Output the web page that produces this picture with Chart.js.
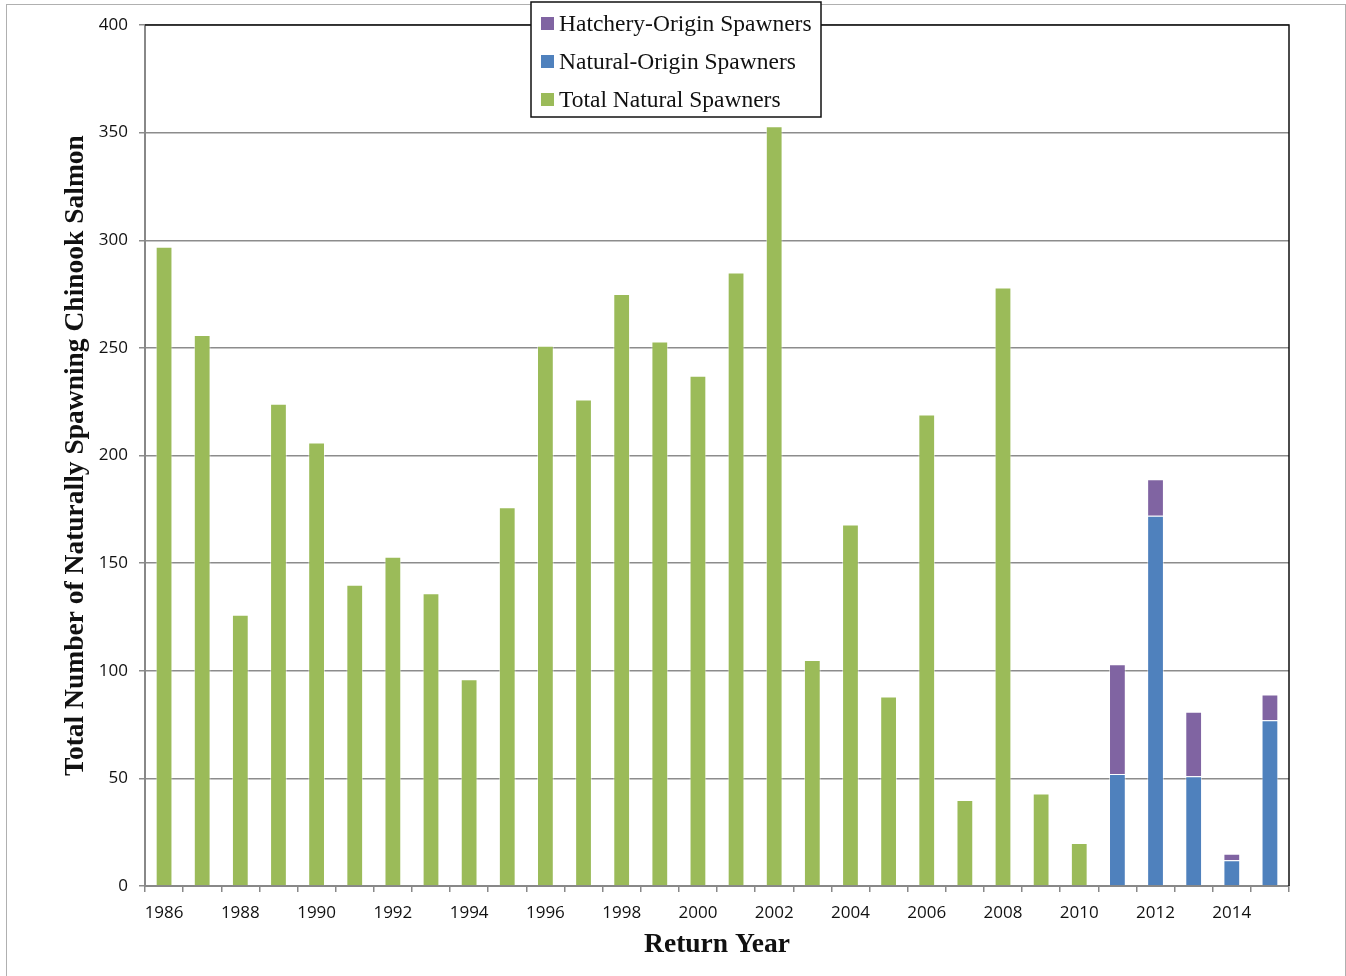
<!DOCTYPE html>
<html>
<head>
<meta charset="utf-8">
<script src="https://cdn.jsdelivr.net/npm/chart.js@4.4.0/dist/chart.umd.min.js"></script>
<style>
  html, body { margin: 0; padding: 0; background: #fff; }
  #wrap { position: relative; width: 1346px; height: 976px; }
  #frame { position: absolute; left: 6px; top: 4px; width: 1340px; height: 990px; border: 1.5px solid #b0b0b0; box-sizing: border-box; }
  canvas { position: absolute; left: 0; top: 0; }
</style>
</head>
<body>
<div id="wrap">
  <div id="frame"></div>
  <canvas id="c" width="1346" height="976"></canvas>
</div>
<script>
const years = ['1986','1987','1988','1989','1990','1991','1992','1993','1994','1995','1996','1997','1998','1999','2000','2001','2002','2003','2004','2005','2006','2007','2008','2009','2010','2011','2012','2013','2014','2015'];
const totalNaturalSpawners = [297,256,126,224,206,140,153,136,96,176,251,226,275,253,237,285,353,105,168,88,219,40,278,43,20,null,null,null,null,null];
const naturalOriginSpawners = [null,null,null,null,null,null,null,null,null,null,null,null,null,null,null,null,null,null,null,null,null,null,null,null,null,52,172,51,12,77];
const hatcheryOriginSpawners = [null,null,null,null,null,null,null,null,null,null,null,null,null,null,null,null,null,null,null,null,null,null,null,null,null,51,17,30,3,12];
const yTicks = [0,50,100,150,200,250,300,350,400];

const GREEN = '#9BBB59', BLUE = '#4F81BD', PURPLE = '#8064A2';

const frameBox = {
  id: 'frameBox',
  afterDatasetsDraw(chart) {
    const {ctx, chartArea: a} = chart;
    ctx.save();
    ctx.strokeStyle = '#111';
    ctx.lineWidth = 1.5;
    ctx.beginPath();
    ctx.moveTo(a.left, a.top);
    ctx.lineTo(a.right, a.top);
    ctx.lineTo(a.right, a.bottom);
    ctx.stroke();
    ctx.restore();
  }
};

const boxLegend = {
  id: 'boxLegend',
  afterDraw(chart) {
    const ctx = chart.ctx;
    const ds = chart.data.datasets.slice().reverse();
    const x0 = 531, y0 = 2, w = 290, h = 115;
    ctx.save();
    ctx.fillStyle = '#fff';
    ctx.fillRect(x0, y0, w, h);
    ctx.strokeStyle = '#111';
    ctx.lineWidth = 1.5;
    ctx.strokeRect(x0, y0, w, h);
    ctx.font = '23.5px "Liberation Serif", "Times New Roman", serif';
    ctx.textBaseline = 'middle';
    ctx.textAlign = 'left';
    ds.forEach((d, i) => {
      const cy = 24 + i * 38;
      ctx.fillStyle = d.backgroundColor;
      ctx.fillRect(541, cy - 7, 13, 13);
      ctx.fillStyle = '#111';
      ctx.fillText(d.label, 559, cy + 1);
    });
    ctx.restore();
  }
};

new Chart(document.getElementById('c'), {
  type: 'bar',
  data: {
    labels: years,
    datasets: [
      { label: 'Total Natural Spawners', data: totalNaturalSpawners, backgroundColor: GREEN, borderColor: 'rgba(255,255,255,0.5)', borderWidth: 1, stack: 's' },
      { label: 'Natural-Origin Spawners', data: naturalOriginSpawners, backgroundColor: BLUE, borderColor: 'rgba(255,255,255,0.5)', borderWidth: 1, stack: 's' },
      { label: 'Hatchery-Origin Spawners', data: hatcheryOriginSpawners, backgroundColor: PURPLE, borderColor: 'rgba(255,255,255,0.5)', borderWidth: 1, stack: 's' }
    ]
  },
  options: {
    responsive: false,
    animation: false,
    devicePixelRatio: 1,
    layout: { padding: { left: 0, top: 25, right: 57, bottom: 0 } },
    datasets: { bar: { barPercentage: 0.44, categoryPercentage: 1.0 } },
    plugins: { legend: { display: false }, tooltip: { enabled: false }, title: { display: false } },
    scales: {
      x: {
        stacked: true,
        afterFit(s) { s.height = 90; },
        grid: { display: true, drawOnChartArea: false, drawTicks: true, tickLength: 6, color: '#888', lineWidth: 1.5, offset: true },
        border: { display: true, color: '#888', width: 2 },
        ticks: {
          autoSkip: false, maxRotation: 0, minRotation: 0, padding: 11,
          color: '#111',
          font: { family: '"Open Sans", "DejaVu Sans", sans-serif', size: 17 },
          callback: (v, i) => (i % 2 === 0 ? years[i] : '')
        },
        title: {
          display: true, text: 'Return Year', color: '#111',
          font: { family: '"Liberation Serif", "Times New Roman", serif', size: 27.5, weight: 'bold' },
          padding: { top: 0, bottom: 15 }
        }
      },
      y: {
        stacked: true,
        min: 0, max: 400,
        afterFit(s) { s.width = 145; },
        afterBuildTicks(s) { s.ticks = yTicks.map(v => ({ value: v })); },
        grid: { display: true, drawOnChartArea: true, drawTicks: true, tickLength: 6, color: '#8c8c8c', lineWidth: 1.5 },
        border: { display: true, color: '#888', width: 2 },
        ticks: {
          padding: 11, color: '#111',
          font: { family: '"Open Sans", "DejaVu Sans", sans-serif', size: 17 }
        },
        title: {
          display: true, text: 'Total Number of Naturally Spawning Chinook Salmon', color: '#111',
          font: { family: '"Liberation Serif", "Times New Roman", serif', size: 27.5, weight: 'bold' },
          padding: { top: 59, bottom: 0 }
        }
      }
    }
  },
  plugins: [frameBox, boxLegend]
});
</script>
</body>
</html>
